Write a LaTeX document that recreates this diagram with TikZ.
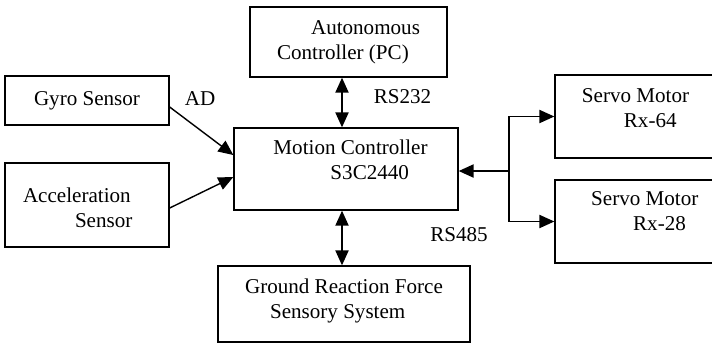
\documentclass[tikz,border=0pt]{standalone}
\usepackage{fontspec}
\setmainfont{Liberation Serif}
\usetikzlibrary{arrows.meta}
\tikzset{
  blockbox/.style={draw, line width=0.8pt, fill=white, inner sep=0pt, align=left, font=\fontsize{12}{14.2}\selectfont},
  link/.style={line width=0.8pt, ->},
  busname/.style={inner sep=0pt, font=\fontsize{12}{14.2}\selectfont}
}

\begin{document}
\begin{tikzpicture}[x=0.02cm, y=-0.02cm, >={Triangle[length=8.5pt,width=7.5pt]}]
\useasboundingbox (0,0) rectangle (712,343);
\clip (0,0) rectangle (712,343);

% sensors on the left
\node[blockbox, minimum width=3.28cm, minimum height=0.98cm] (gyro) at (87,100.5) {Gyro Sensor};
\node[blockbox, minimum width=3.28cm, minimum height=1.68cm, text width=2.56cm, text depth=0.4cm] (accel) at (87,205) {Acceleration\\\hspace*{1.04cm}Sensor};

% controllers
\node[blockbox, minimum width=3.94cm, minimum height=1.40cm] (pc) at (348.5,42) {\hspace*{0.68cm}Autonomous\\Controller (PC)};
\node[blockbox, minimum width=4.48cm, minimum height=1.64cm, text depth=0.36cm] (motion) at (346,169) {\hspace*{0.18cm}Motion Controller\\\hspace*{1.32cm}S3C2440};
\node[blockbox, minimum width=5.04cm, minimum height=1.52cm, text depth=0.2cm] (ground) at (344,304) {Ground Reaction Force\\\hspace*{0.5cm}Sensory System};

% servos on the right
\node[blockbox, minimum width=3.22cm, minimum height=1.66cm, text depth=0.34cm] (servo1) at (635.5,116.5) {Servo Motor\\\hspace*{0.84cm}Rx-64};
\node[blockbox, minimum width=3.22cm, minimum height=1.66cm, text depth=0.42cm] (servo2) at (635.5,221.5) {\hspace*{0.37cm}Servo Motor\\\hspace*{1.21cm}Rx-28};

% bus names
\node[busname] (ad) at (200,99) {AD};
\node[busname] (rs232) at (402.5,97) {RS232};
\node[busname] (rs485) at (459,235) {RS485};

% connectors
\draw[link] ([yshift=-0.13cm]gyro.east) -- ([yshift=0.28cm]motion.west);
\draw[link] ([yshift=-0.06cm]accel.east) -- ([yshift=-0.16cm]motion.west);
\coordinate (up) at ([xshift=-0.08cm]motion.north);
\coordinate (dn) at ([xshift=-0.08cm]motion.south);
\draw[link,<->] (up |- pc.south) -- (up);
\draw[link,<->] (dn) -- (dn |- ground.north);
\coordinate (bus) at (509,171);
\draw[link] (bus) -- (bus -| motion.east);
\draw[link] (bus |- servo2.west) -- (bus |- servo1.west) -- (servo1.west);
\draw[link] (bus |- servo2.west) -- (servo2.west);
\end{tikzpicture}
\end{document}
